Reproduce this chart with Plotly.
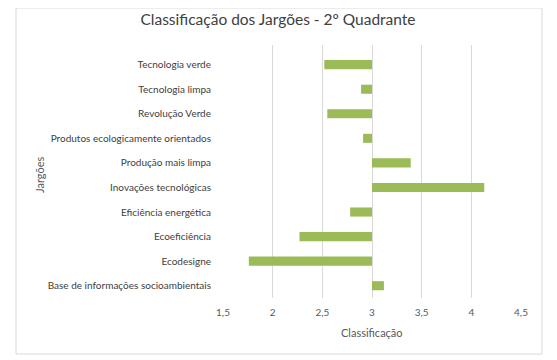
import plotly.graph_objects as go

categories = [
    "Tecnologia verde",
    "Tecnologia limpa",
    "Revolução Verde",
    "Produtos ecologicamente orientados",
    "Produção mais limpa",
    "Inovações tecnológicas",
    "Eficiência energética",
    "Ecoeficiência",
    "Ecodesigne",
    "Base de informações socioambientais",
]
values = [2.52, 2.89, 2.55, 2.91, 3.39, 4.13, 2.78, 2.27, 1.76, 3.12]
baseline = 3
tick_vals = [1.5, 2, 2.5, 3, 3.5, 4, 4.5]
tick_text = ["1,5", "2", "2,5", "3", "3,5", "4", "4,5"]

W, H = 557, 360
OFF = 8  # page body margin offset
# target plot-area in page pixels: x 223..521, y 45..298
L = 223 - OFF
R = W - (521 - OFF)
T = 45 - OFF
B = H - (298 - OFF)
pw, ph = W - L - R, H - T - B


def px_x(x):
    return (x - OFF - L) / pw


def px_y(y):
    return (H - B - (y - OFF)) / ph


font_family = "Lato, 'Open Sans', sans-serif"
txt = "#595959"

fig = go.Figure(
    go.Bar(
        y=categories,
        x=[v - baseline for v in values],
        base=baseline,
        orientation="h",
        marker=dict(color="#9BBB59", line=dict(width=0)),
        hoverinfo="skip",
    )
)

fig.update_layout(
    width=W,
    height=H,
    margin=dict(l=L, r=R, t=T, b=B),
    paper_bgcolor="white",
    plot_bgcolor="white",
    bargap=0.63,
    showlegend=False,
    font=dict(family=font_family, size=10, color=txt),
    title=dict(
        text="Classificação dos Jargões - 2º Quadrante",
        x=(278 - OFF) / W,
        xref="container",
        y=1 - (19.5 - OFF) / H,
        yref="container",
        yanchor="middle",
        xanchor="center",
        font=dict(family=font_family, size=15.5, color="#404040"),
    ),
    xaxis=dict(
        range=[1.5, 4.5],
        tickvals=tick_vals,
        ticktext=tick_text,
        showgrid=True,
        gridcolor="#D9D9D9",
        gridwidth=1,
        zeroline=False,
        showline=False,
        ticks="outside",
        ticklen=5,
        tickcolor="rgba(0,0,0,0)",
        tickfont=dict(size=10, color=txt),
    ),
    yaxis=dict(
        categoryorder="array",
        categoryarray=categories,
        range=[9.5, -0.8],
        showgrid=False,
        zeroline=False,
        showline=False,
        ticks="outside",
        ticklen=9,
        tickcolor="rgba(0,0,0,0)",
        tickfont=dict(size=10, color="#404040"),
    ),
    shapes=[
        dict(
            type="rect",
            xref="paper",
            yref="paper",
            x0=px_x(16),
            x1=px_x(542),
            y0=px_y(354),
            y1=px_y(8),
            line=dict(color="#D9D9D9", width=1),
            fillcolor="rgba(0,0,0,0)",
            layer="below",
        )
    ],
    annotations=[
        dict(
            text="Jargões",
            xref="paper",
            yref="paper",
            x=px_x(40),
            y=px_y(175),
            showarrow=False,
            textangle=-90,
            font=dict(size=11, color=txt),
            xanchor="center",
            yanchor="middle",
        ),
        dict(
            text="Classificação",
            xref="paper",
            yref="paper",
            x=px_x(372),
            y=px_y(332),
            showarrow=False,
            font=dict(size=11, color=txt),
            xanchor="center",
            yanchor="middle",
        ),
    ],
)

fig.write_html("out.html")
